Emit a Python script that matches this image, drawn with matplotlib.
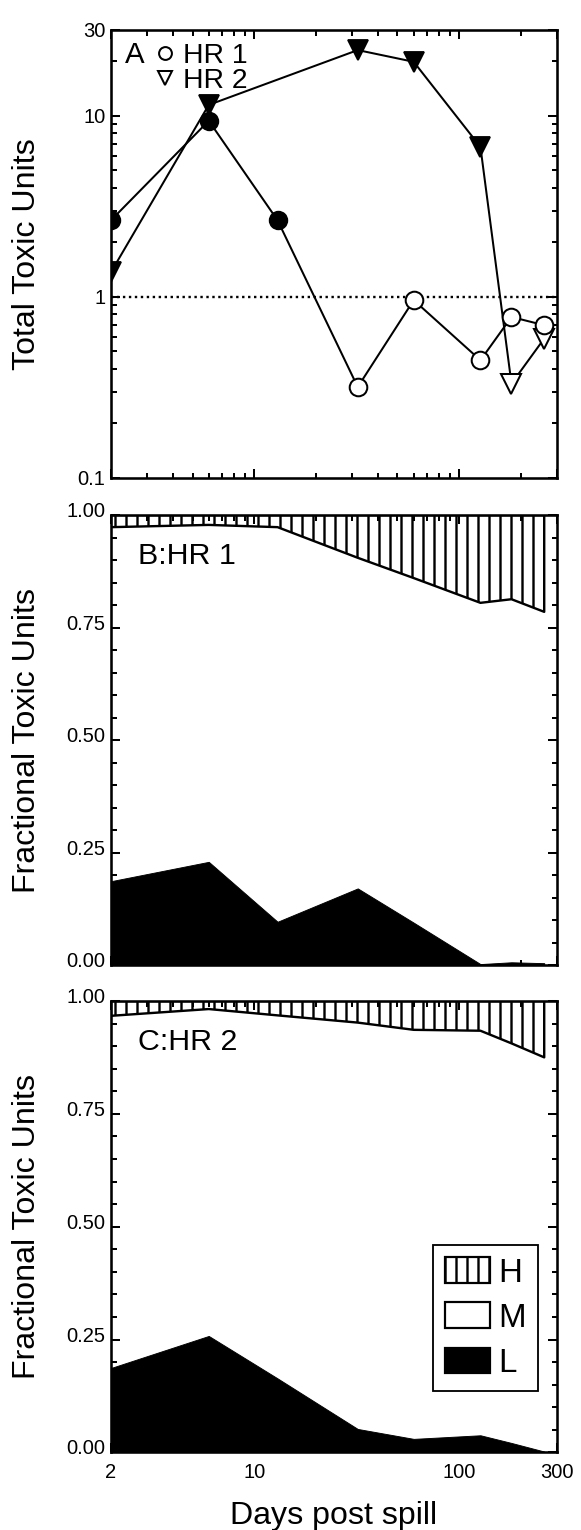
import numpy as np
import matplotlib
matplotlib.use("Agg")
import matplotlib.pyplot as plt
import matplotlib.transforms as mtransforms
from matplotlib.lines import Line2D
from matplotlib.patches import Patch
from matplotlib.ticker import FixedLocator, LogLocator, MultipleLocator, NullFormatter, FormatStrFormatter

plt.rcParams['font.family'] = ['Liberation Sans', 'DejaVu Sans']
plt.rcParams['hatch.linewidth'] = 1.3
plt.rcParams['hatch.color'] = 'black'

# total toxic units per sampling day
days_hr1 = [2, 6, 13, 32, 60, 127, 180, 260]
tu_hr1 = [2.65, 9.4, 2.65, 0.318, 0.96, 0.447, 0.775, 0.698]
days_hr2 = [2, 6, 32, 60, 127, 180, 260]
tu_hr2 = [1.37, 11.5, 23.1, 19.9, 6.74, 0.332, 0.589]

# fractional toxic units (low / mid / high) per sampling day
days_frac = [2, 6, 13, 32, 60, 127, 180, 260]
hr1_low = [0.187, 0.230, 0.097, 0.171, 0.095, 0.003, 0.007, 0.005]
hr1_mid = [0.786, 0.748, 0.876, 0.734, 0.765, 0.802, 0.806, 0.780]
hr1_high = [0.027, 0.022, 0.027, 0.095, 0.140, 0.195, 0.187, 0.215]
hr2_low = [0.187, 0.258, 0.164, 0.052, 0.030, 0.038, 0.021, 0.002]
hr2_mid = [0.780, 0.724, 0.804, 0.900, 0.906, 0.896, 0.885, 0.873]
hr2_high = [0.033, 0.018, 0.032, 0.048, 0.064, 0.066, 0.094, 0.125]

x_ticks = [2, 10, 100, 300]
x_ticklabels = ['2', '10', '100', '300']

DPI = 132
fig = plt.figure(figsize=(581 / DPI, 1530 / DPI), dpi=DPI)
axA = fig.add_axes([0.191, 0.6876, 0.7676, 0.2931])
axB = fig.add_axes([0.191, 0.3690, 0.7676, 0.2944])
axC = fig.add_axes([0.191, 0.0507, 0.7676, 0.2951])


def style(ax):
    ax.set_xscale('log')
    ax.set_xlim(2, 300)
    ax.xaxis.set_major_locator(FixedLocator(x_ticks))
    ax.xaxis.set_minor_locator(LogLocator(base=10, subs=np.arange(2, 10), numticks=20))
    ax.xaxis.set_minor_formatter(NullFormatter())
    ax.tick_params(which='both', direction='in', top=True, right=True,
                   width=1.1, labelsize=11, pad=3)
    ax.tick_params(which='major', length=5)
    ax.tick_params(which='minor', length=3)
    for s in ax.spines.values():
        s.set_linewidth(1.4)


# --- A: total toxic units
style(axA)
axA.set_yscale('log')
axA.set_ylim(0.1, 30)
axA.yaxis.set_major_locator(FixedLocator([0.1, 1, 10, 30]))
axA.set_yticklabels(['0.1', '1', '10', '30'])
axA.yaxis.set_minor_locator(LogLocator(base=10, subs=np.arange(2, 10), numticks=20))
axA.yaxis.set_minor_formatter(NullFormatter())
axA.tick_params(labelbottom=False)

axA.axhline(1, color='black', ls=(0, (1, 1.5)), lw=1.3, zorder=1)
# filled symbols above 1 TU, open symbols below
for d, tu, mk, ms in [(days_hr2, tu_hr2, 'v', 10.5), (days_hr1, tu_hr1, 'o', 9.6)]:
    d = np.array(d)
    tu = np.array(tu)
    axA.plot(d, tu, color='black', lw=1.1, zorder=2)
    toxic = tu >= 1
    axA.plot(d[toxic], tu[toxic], mk, ms=ms, mfc='black', mec='black', zorder=3)
    axA.plot(d[~toxic], tu[~toxic], mk, ms=ms, mfc='white', mec='black', mew=1.1, zorder=3)

axA.set_ylabel('Total Toxic Units', fontsize=17.5)
axA.yaxis.set_label_coords(-0.155, 0.5)
axA.text(0.031, 0.925, 'A', transform=axA.transAxes, fontsize=16, va='baseline')
legA = axA.legend(
    handles=[Line2D([], [], marker='o', ls='none', mfc='white', mec='black', ms=7, mew=1.1),
             Line2D([], [], marker='v', ls='none', mfc='white', mec='black', ms=7.5, mew=1.1)],
    labels=['HR 1', 'HR 2'], loc='upper left', bbox_to_anchor=(0.089, 0.970),
    frameon=False, fontsize=15.5, handlelength=1.0, handletextpad=0.13,
    borderpad=0, borderaxespad=0, labelspacing=-0.03)


# --- B and C: fractional toxic units
def frac_panel(ax, low, mid, high, label):
    style(ax)
    low = np.array(low)
    mid = np.array(mid)
    ax.fill_between(days_frac, 0, low, facecolor='black', edgecolor='black', lw=0.5)
    ax.fill_between(days_frac, low + mid, low + mid + np.array(high), facecolor='white',
                    edgecolor='black', hatch='||', lw=1.3)
    ax.set_ylim(0, 1)
    ax.yaxis.set_major_locator(MultipleLocator(0.25))
    ax.yaxis.set_minor_locator(MultipleLocator(0.05))
    ax.yaxis.set_major_formatter(FormatStrFormatter('%.2f'))
    ax.set_ylabel('Fractional Toxic Units', fontsize=17.5)
    ax.yaxis.set_label_coords(-0.155, 0.5)
    ax.text(0.061, 0.891, label, transform=ax.transAxes, fontsize=16.6, va='baseline')
    # tick labels sit a little above their ticks
    lift = mtransforms.ScaledTranslation(0, 3 / 72, fig.dpi_scale_trans)
    for lab in ax.yaxis.get_majorticklabels():
        lab.set_transform(lab.get_transform() + lift)


frac_panel(axB, hr1_low, hr1_mid, hr1_high, 'B:HR 1')
axB.tick_params(labelbottom=False)
frac_panel(axC, hr2_low, hr2_mid, hr2_high, 'C:HR 2')
axC.set_xticklabels(x_ticklabels)
axC.tick_params(axis='x', pad=6)
axC.set_xlabel('Days post spill', fontsize=17.5, labelpad=10)

legC = axC.legend(
    handles=[Patch(facecolor='white', edgecolor='black', hatch='||', lw=1.2),
             Patch(facecolor='white', edgecolor='black', lw=1.2),
             Patch(facecolor='black', edgecolor='black', lw=1.2)],
    labels=['H', 'M', 'L'], loc='upper right', bbox_to_anchor=(0.958, 0.46),
    fontsize=18, handlelength=1.35, handleheight=0.82, handletextpad=0.25,
    borderpad=0.38, borderaxespad=0, labelspacing=0.42, fancybox=False,
    edgecolor='black', framealpha=1)
legC.get_frame().set_linewidth(1.0)

fig.savefig('out.png', dpi=DPI)
